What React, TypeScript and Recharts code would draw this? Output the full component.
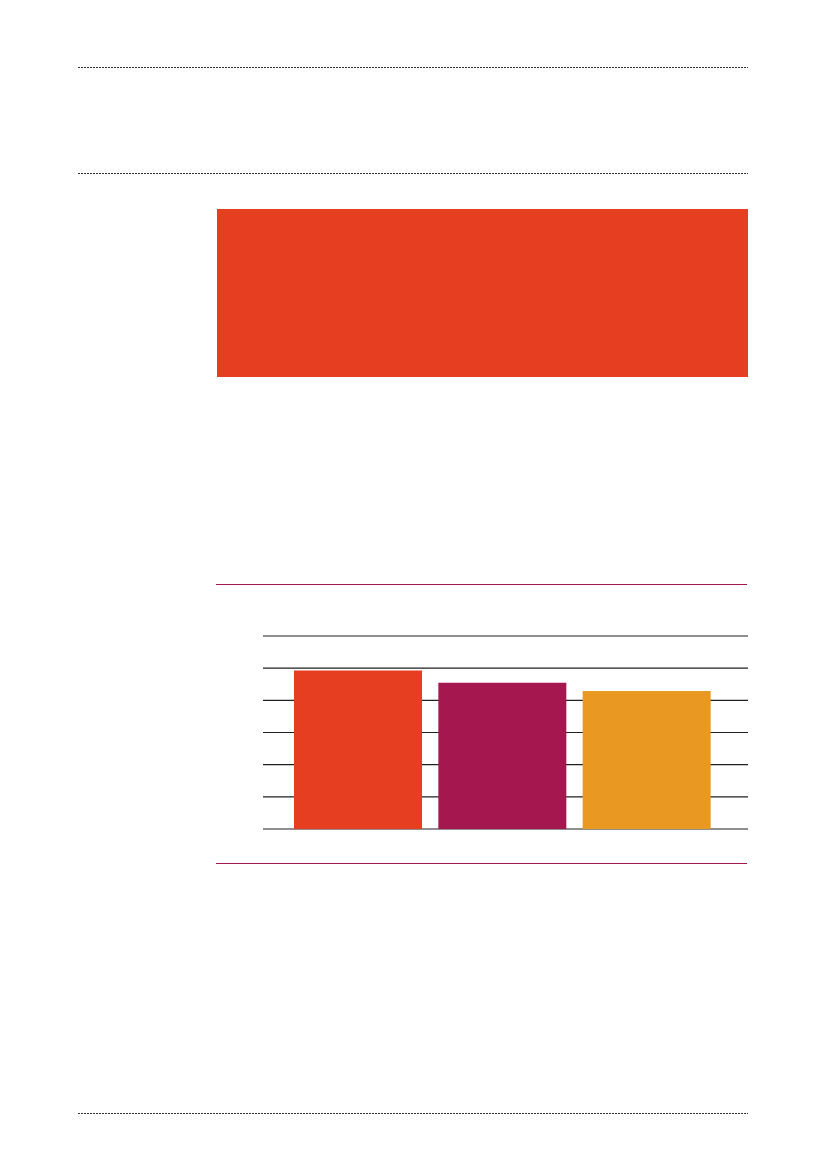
import { Bar, BarChart, CartesianGrid, Cell, XAxis, YAxis } from "recharts";

const categories = ["bar-1", "bar-2", "bar-3"];
const values = [4.93, 4.55, 4.29];
const barColors = ["#e63e20", "#a5174f", "#e99821"];
const yTicks = [0, 1, 2, 3, 4, 5, 6];

const data = categories.map((name, i) => ({ name, value: values[i] }));

const MAGENTA = "#a5174f";

function DottedRule({ top }: { top: number }) {
  return (
    <div
      style={{
        position: "absolute",
        left: 78,
        top,
        width: 670,
        height: 1,
        background:
          "repeating-linear-gradient(to right, #333 0px, #333 2px, transparent 2px, transparent 3px)",
      }}
    />
  );
}

function Rule({ top }: { top: number }) {
  return (
    <div
      style={{
        position: "absolute",
        left: 216,
        top,
        width: 531,
        height: 1,
        background: MAGENTA,
      }}
    />
  );
}

export default function App() {
  return (
    <div
      style={{
        position: "absolute",
        left: 0,
        top: 0,
        width: 827,
        height: 1169,
        background: "#fff",
        overflow: "hidden",
      }}
    >
      <DottedRule top={67} />
      <DottedRule top={173} />
      <DottedRule top={1113} />

      {/* red header block */}
      <div
        style={{
          position: "absolute",
          left: 217,
          top: 209,
          width: 531,
          height: 168,
          background: "#e63e20",
        }}
      />

      <Rule top={584} />
      <Rule top={863} />

      <div style={{ position: "absolute", left: 216, top: 600 }}>
        <BarChart
          width={532}
          height={250}
          data={data}
          margin={{ top: 36, right: 0, left: 47, bottom: 21 }}
        >
          <CartesianGrid vertical={false} stroke="#231f20" strokeWidth={1.2} />
          <XAxis
            dataKey="name"
            hide
            padding={{ left: 23, right: 29 }}
          />
          <YAxis hide domain={[0, 6]} ticks={yTicks} />
          <Bar dataKey="value" barSize={128} isAnimationActive={false}>
            {data.map((d, i) => (
              <Cell key={d.name} fill={barColors[i]} />
            ))}
          </Bar>
        </BarChart>
      </div>
    </div>
  );
}
